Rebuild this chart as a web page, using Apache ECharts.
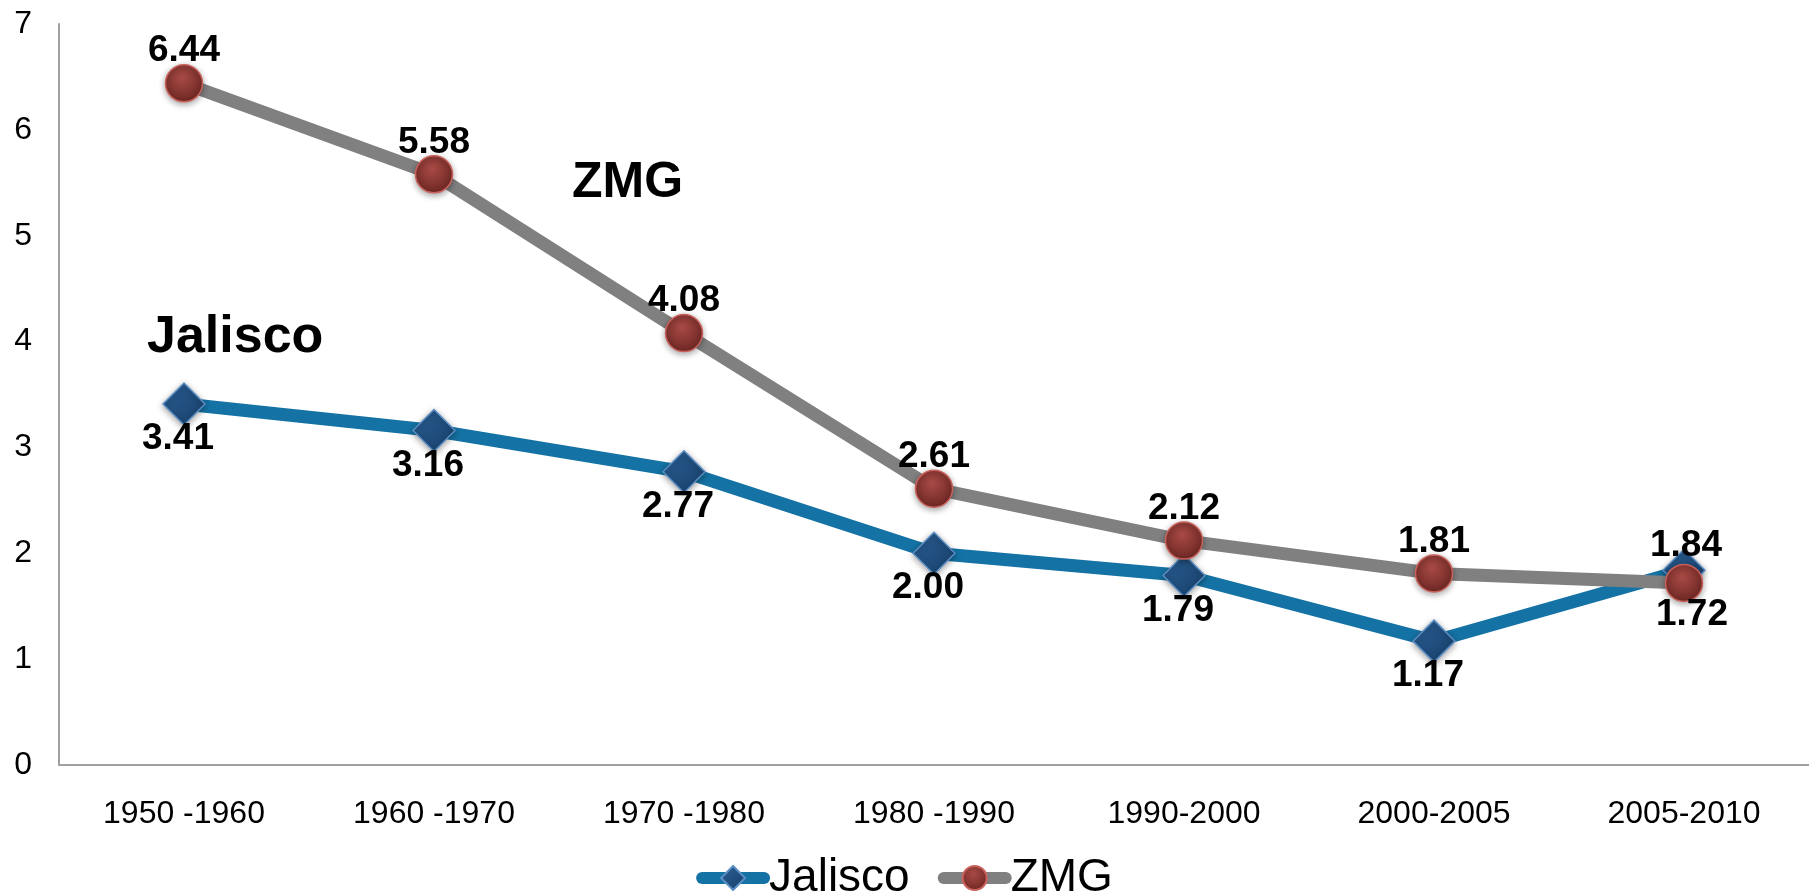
<!DOCTYPE html>
<html>
<head>
<meta charset="utf-8">
<title>Jalisco / ZMG</title>
<script src="https://cdn.jsdelivr.net/npm/echarts@6/dist/echarts.min.js"></script>
<style>
  html, body { margin: 0; padding: 0; background: #fff; }
  #chart { width: 1809px; height: 891px; }
</style>
</head>
<body>
<div id="chart"></div>
<script>
// datos
var periodos = ["1950 -1960", "1960 -1970", "1970 -1980", "1980 -1990", "1990-2000", "2000-2005", "2005-2010"];
var jalisco = [3.41, 3.16, 2.77, 2.00, 1.79, 1.17, 1.84];
var zmg = [6.44, 5.58, 4.08, 2.61, 2.12, 1.81, 1.72];

var fuente = "'Liberation Sans', Arial, sans-serif";

// la última etiqueta de cada serie va del otro lado
function puntos(arr, offsetUltimo) {
  return arr.map(function (v, i) {
    if (i === arr.length - 1) {
      return { value: v, label: { offset: offsetUltimo } };
    }
    return v;
  });
}

var etiqueta = {
  show: true,
  position: "inside",
  fontFamily: fuente,
  fontSize: 37,
  fontWeight: "bold",
  color: "#000",
  formatter: function (p) { return p.value.toFixed(2); }
};

var option = {
  animation: false,
  backgroundColor: "#fff",
  grid: { left: 59, right: -15, top: 24, bottom: 126 },
  legend: {
    left: "center",
    top: 850,
    itemWidth: 62,
    itemHeight: 30,
    itemGap: 28,
    lineStyle: { width: 12, cap: "round" },
    textStyle: { fontFamily: fuente, fontSize: 46, color: "#000" },
    data: ["Jalisco", "ZMG"]
  },
  xAxis: {
    type: "category",
    data: periodos,
    boundaryGap: true,
    axisLine: { lineStyle: { color: "#a0a0a0", width: 2 } },
    axisTick: { show: false },
    axisLabel: { fontFamily: fuente, fontSize: 32, color: "#000", margin: 33, interval: 0 }
  },
  yAxis: {
    type: "value",
    min: 0,
    max: 7,
    interval: 1,
    axisLine: { show: true, lineStyle: { color: "#a0a0a0", width: 2 } },
    axisTick: { show: false },
    splitLine: { show: false },
    axisLabel: { fontFamily: fuente, fontSize: 32, color: "#000", margin: 27 }
  },
  graphic: [
    {
      type: "text", left: 147, top: 312,
      style: { text: "Jalisco", fontFamily: fuente, fontSize: 52, fontWeight: "bold", fill: "#000" }
    },
    {
      type: "text", left: 572, top: 158,
      style: { text: "ZMG", fontFamily: fuente, fontSize: 50, fontWeight: "bold", fill: "#000" }
    }
  ],
  series: [
    {
      name: "Jalisco",
      type: "line",
      data: puntos(jalisco, [2, -24]),
      symbol: "diamond",
      symbolSize: 42,
      lineStyle: { color: "#1472a4", width: 13 },
      itemStyle: {
        color: {
          type: "linear", x: 0, y: 0, x2: 1, y2: 1,
          colorStops: [{ offset: 0, color: "#2a5f94" }, { offset: 1, color: "#173f6a" }]
        },
        borderColor: "#5b8ec4",
        borderWidth: 1.5,
        shadowBlur: 6,
        shadowColor: "rgba(0,0,0,0.35)",
        shadowOffsetY: 2
      },
      label: Object.assign({}, etiqueta, { offset: [-6, 35] }),
      z: 3
    },
    {
      name: "ZMG",
      type: "line",
      data: puntos(zmg, [8, 32]),
      symbol: "circle",
      symbolSize: 37,
      lineStyle: { color: "#808080", width: 13 },
      itemStyle: {
        color: {
          type: "radial", x: 0.45, y: 0.35, r: 0.65,
          colorStops: [{ offset: 0, color: "#a84a45" }, { offset: 1, color: "#6e2723" }]
        },
        borderColor: "#c9625c",
        borderWidth: 1.5,
        shadowBlur: 6,
        shadowColor: "rgba(0,0,0,0.35)",
        shadowOffsetY: 2
      },
      label: Object.assign({}, etiqueta, { offset: [0, -32] }),
      z: 4
    }
  ]
};

var chart = echarts.init(document.getElementById("chart"));
chart.setOption(option);
</script>
</body>
</html>
